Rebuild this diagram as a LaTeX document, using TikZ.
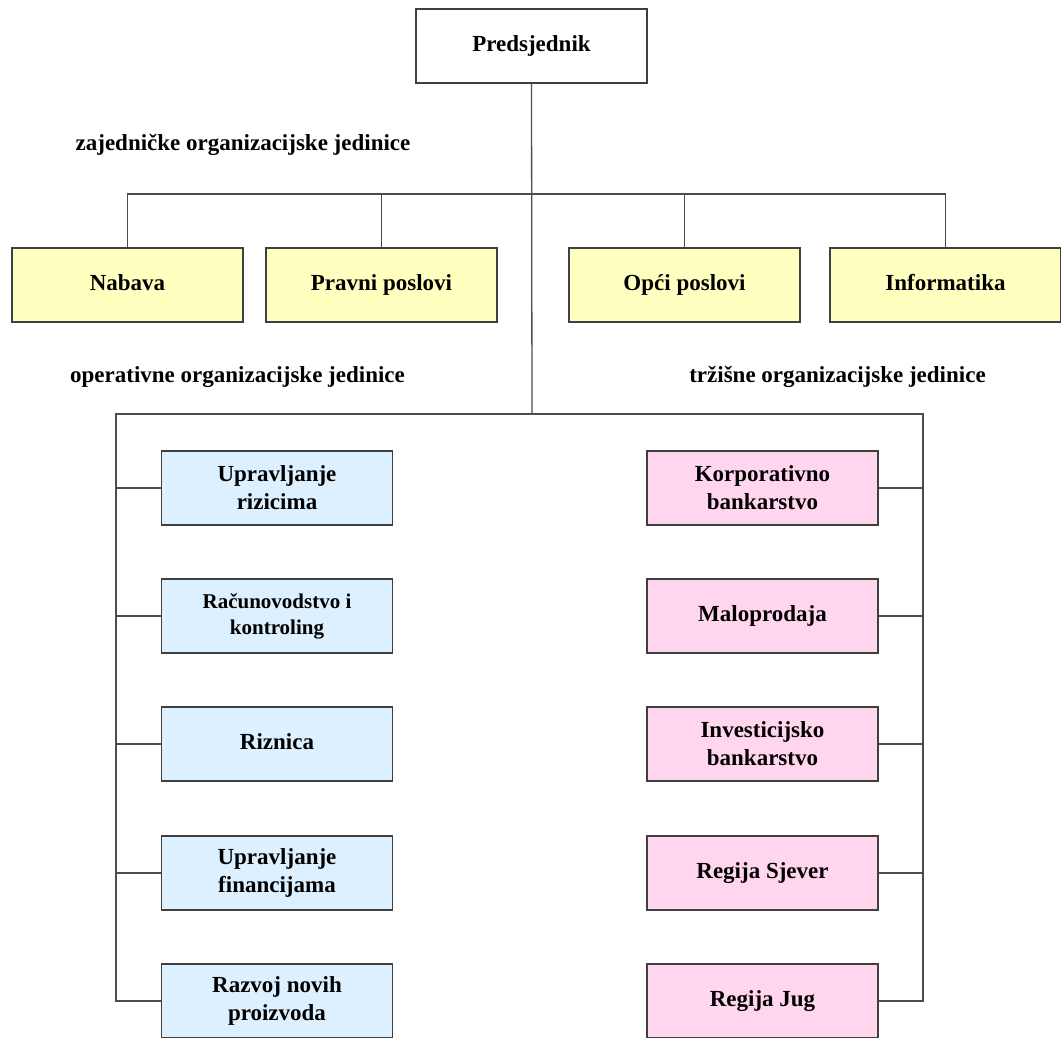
\documentclass[tikz,border=0pt]{standalone}
\usepackage{fontspec}
\setmainfont{Liberation Serif}
\definecolor{zajednicka}{HTML}{FFFFC0}
\definecolor{operativna}{HTML}{DCF0FF}
\definecolor{trzisna}{HTML}{FFD6EE}
\begin{document}
\begin{tikzpicture}[x = 1pt, y = -1pt,
        unit/.style = {draw = black!75, line width = 1.5pt, fill = #1, minimum width = 231pt, minimum height = 74pt, inner sep = 0pt, align = center, font = \bfseries\fontsize{23}{28}\selectfont},
        unitsmall/.style = {unit = #1, font = \bfseries\fontsize{21}{26}\selectfont},
        oneline/.style = {text height = 16pt, text depth = 5pt},
        caption/.style = {inner sep = 0pt, oneline, font = \bfseries\fontsize{23}{28}\selectfont},
        link/.style = {draw = black!70, line width = 1.3pt}]
    \useasboundingbox (0, 0) rectangle (1061, 1037);
    % vrh
    \node[unit = white, oneline] (pres) at (531.5, 46) {Predsjednik};
    % zajednicke jedinice
    \node[caption] (zajcap) at (243, 145) {zajedničke organizacijske jedinice};
    \node[unit = zajednicka, oneline] (nabava) at (127.5, 285) {Nabava};
    \node[unit = zajednicka, oneline] (pravni) at (381.5, 285) {Pravni poslovi};
    \node[unit = zajednicka, oneline] (opci) at (684.5, 285) {Opći poslovi};
    \node[unit = zajednicka, oneline] (info) at (945.5, 285) {Informatika};
    % operativne i trzisne
    \node[caption] (opcap) at (237.5, 377) {operativne organizacijske jedinice};
    \node[caption] (trcap) at (837.5, 377) {tržišne organizacijske jedinice};
    \node[unit = operativna] (rizici) at (277, 488) {Upravljanje\\rizicima};
    \node[unitsmall = operativna] (racun) at (277, 616) {Računovodstvo i\\kontroling};
    \node[unit = operativna, oneline] (riznica) at (277, 744) {Riznica};
    \node[unit = operativna] (financ) at (277, 873) {Upravljanje\\financijama};
    \node[unit = operativna] (razvoj) at (277, 1001) {Razvoj novih\\proizvoda};
    \node[unit = trzisna] (korp) at (762.5, 488) {Korporativno\\bankarstvo};
    \node[unit = trzisna, oneline] (malo) at (762.5, 616) {Maloprodaja};
    \node[unit = trzisna] (invest) at (762.5, 744) {Investicijsko\\bankarstvo};
    \node[unit = trzisna, oneline] (sjever) at (762.5, 873) {Regija Sjever};
    \node[unit = trzisna, oneline] (jug) at (762.5, 1001) {Regija Jug};
    % veze
    \coordinate (zajL) at (127.5, 194);
    \coordinate (zajR) at (945.5, 194);
    \coordinate (trunk) at (532, 414);
    \coordinate (opL) at (116, 414);
    \coordinate (trR) at (923, 414);
    \draw[link] (pres.south) -- (trunk);
    \draw[link] (nabava.north) -- (zajL) -- (zajR) -- (info.north);
    \draw[link] (pravni.north) -- (pravni.north |- zajL);
    \draw[link] (opci.north) -- (opci.north |- zajL);
    \draw[link] (razvoj.west) -| (opL) -- (trR) |- (jug.east);
    \draw[link] (rizici.west) -- (rizici.west -| opL);
    \draw[link] (racun.west) -- (racun.west -| opL);
    \draw[link] (riznica.west) -- (riznica.west -| opL);
    \draw[link] (financ.west) -- (financ.west -| opL);
    \draw[link] (korp.east) -- (korp.east -| trR);
    \draw[link] (malo.east) -- (malo.east -| trR);
    \draw[link] (invest.east) -- (invest.east -| trR);
    \draw[link] (sjever.east) -- (sjever.east -| trR);
\end{tikzpicture}
\end{document}
